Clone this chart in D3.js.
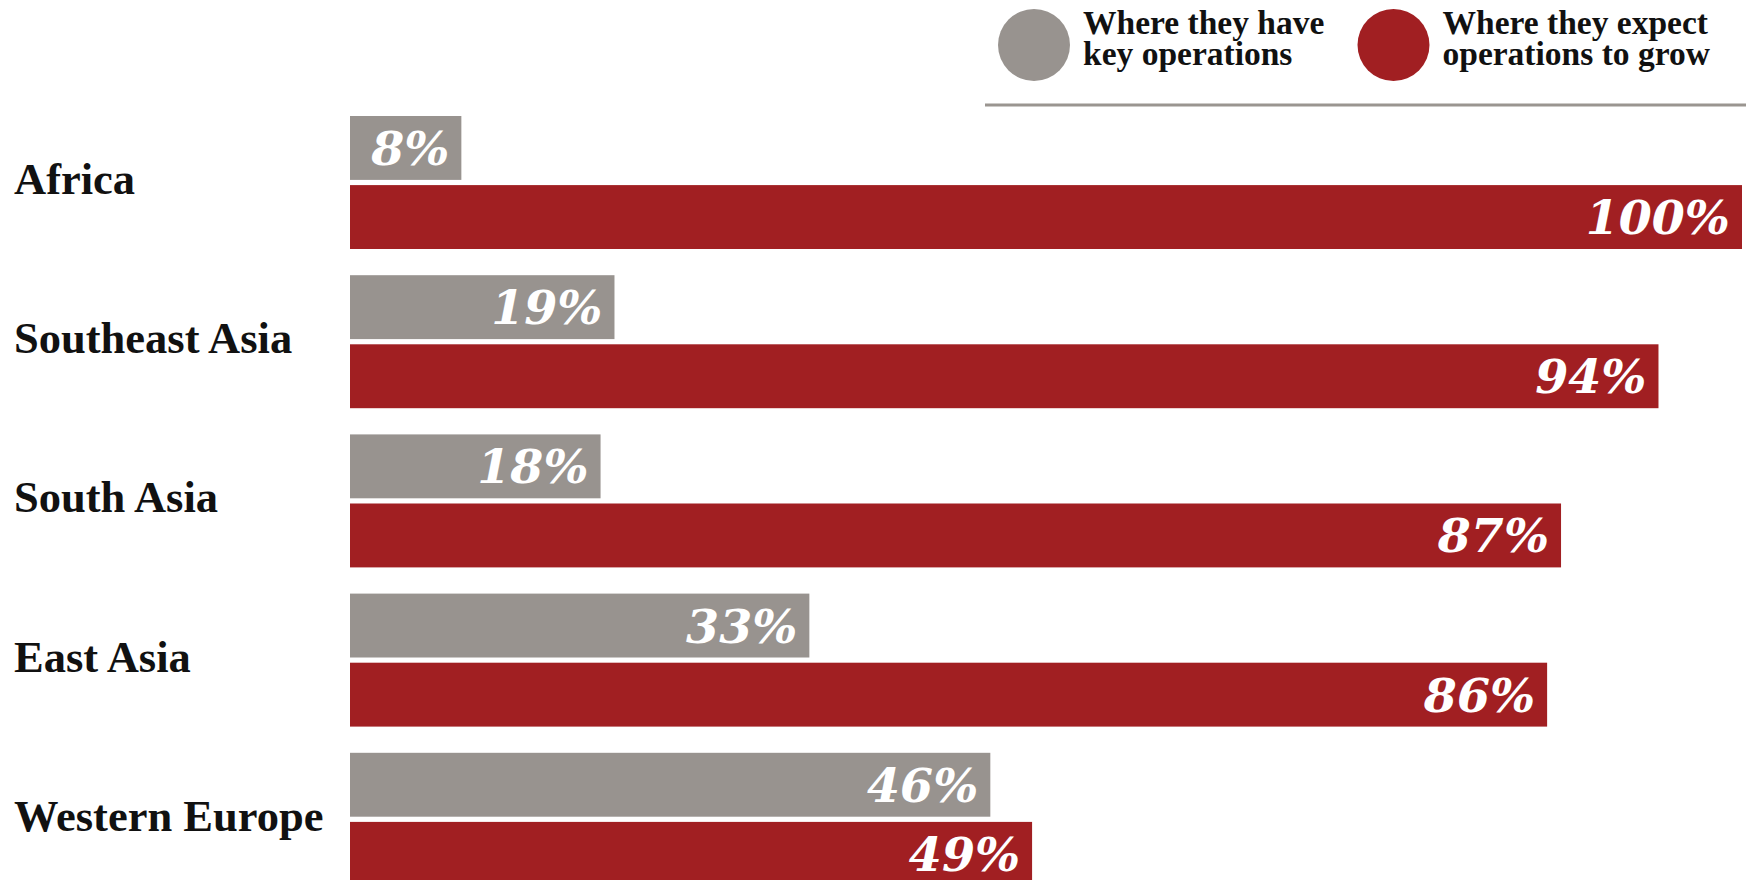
<!DOCTYPE html>
<html>
<head>
<meta charset="utf-8">
<script src="https://cdn.jsdelivr.net/npm/d3@7"></script>
<style>
  body { margin: 0; background: #fff; }
  svg { display: block; }
</style>
</head>
<body>
<div id="chart-area"></div>
<script>
// data
var categories = ['Africa', 'Southeast Asia', 'South Asia', 'East Asia', 'Western Europe'];
var series = ['have', 'grow'];
var haveValues = [8, 19, 18, 33, 46];
var growValues = [100, 94, 87, 86, 49];
var legendLabels = [['Where they have', 'key operations'], ['Where they expect', 'operations to grow']];

var colors = {have: '#98938f', grow: '#a11f22'};

var svgWidth = 1746;
var svgHeight = 880;

var svg = d3.select('#chart-area')
  .append('svg')
  .attr('width', svgWidth)
  .attr('height', svgHeight);

var rows = categories.map(function(c, i) {
  return {cat: c, have: haveValues[i], grow: growValues[i]};
});

var xScale = d3.scaleLinear()
  .domain([0, 100])
  .range([350, 1742]);

var yScale = d3.scaleBand()
  .domain(categories)
  .range([116, 885.8])
  .paddingInner(0.1646)
  .paddingOuter(0);

var ySub = d3.scaleBand()
  .domain(series)
  .range([0, yScale.bandwidth()])
  .paddingInner(0.0752);

// legend
var legend = svg.append('g');
var legendX = [1034, 1393.5];

legend.selectAll('circle')
  .data(series)
  .enter()
  .append('circle')
  .attr('cx', function(d, i) { return legendX[i]; })
  .attr('cy', 45)
  .attr('r', 36)
  .attr('fill', function(d) { return colors[d]; });

legendLabels.forEach(function(lines, i) {
  var t = legend.append('text')
    .attr('x', legendX[i] + 49)
    .attr('y', 34)
    .attr('font-family', 'Liberation Serif, serif')
    .attr('font-weight', 'bold')
    .attr('font-size', 33.5)
    .attr('fill', '#111');
  lines.forEach(function(l, j) {
    t.append('tspan')
      .attr('x', legendX[i] + 49)
      .attr('y', 34 + j * 31)
      .text(l);
  });
});

svg.append('line')
  .attr('x1', 985)
  .attr('x2', 1746)
  .attr('y1', 105)
  .attr('y2', 105)
  .attr('stroke', '#9a9590')
  .attr('stroke-width', 3);

// rows
var g = svg.selectAll('.row')
  .data(rows)
  .enter()
  .append('g')
  .attr('class', 'row')
  .attr('transform', function(d) { return 'translate(0,' + yScale(d.cat) + ')'; });

g.append('text')
  .attr('x', 14)
  .attr('y', 78)
  .attr('font-family', 'Liberation Serif, serif')
  .attr('font-weight', 'bold')
  .attr('font-size', 44.5)
  .attr('fill', '#111')
  .text(function(d) { return d.cat; });

series.forEach(function(s) {
  g.append('rect')
    .attr('x', xScale(0))
    .attr('y', ySub(s))
    .attr('width', function(d) { return xScale(d[s]) - xScale(0); })
    .attr('height', ySub.bandwidth())
    .attr('fill', colors[s]);

  g.append('text')
    .attr('x', function(d) { return xScale(d[s]) - 12; })
    .attr('y', ySub(s) + 49)
    .attr('text-anchor', 'end')
    .attr('font-family', 'DejaVu Serif, serif')
    .attr('font-weight', 'bold')
    .attr('font-style', 'italic')
    .attr('font-size', 47.5)
    .attr('fill', '#fff')
    .text(function(d) { return d[s] + '%'; });
});
</script>
</body>
</html>
